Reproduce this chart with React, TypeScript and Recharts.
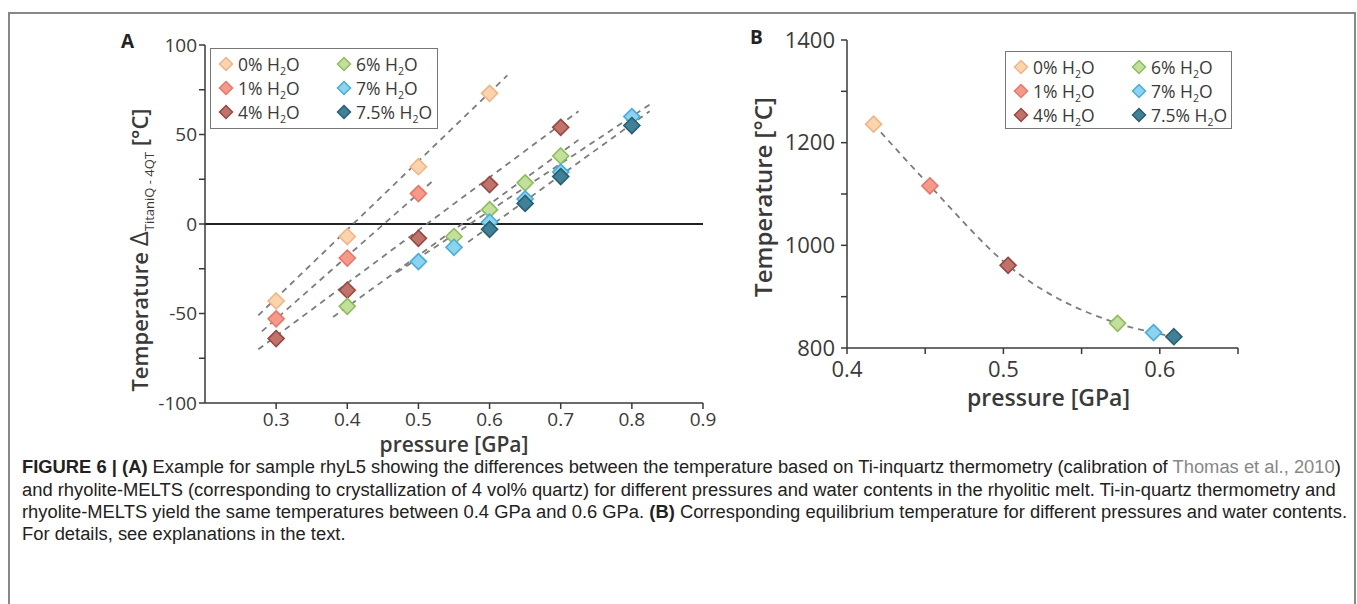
import { ComposedChart, Scatter, Line, XAxis, YAxis, ReferenceLine } from "recharts";

// water contents and their marker colours
const series = ["0%", "1%", "4%", "6%", "7%", "7.5%"];
const fills = ["#fbd3ad", "#f59a8b", "#c27369", "#c3df9c", "#8dd2ef", "#3f8196"];
const strokes = ["#f1b585", "#ea7667", "#984843", "#8dbd5c", "#45afdc", "#2a5e70"];

// panel A: temperature difference vs pressure
const pressureA = [
  [0.3, 0.4, 0.5, 0.6],
  [0.3, 0.4, 0.5],
  [0.3, 0.4, 0.5, 0.6, 0.7],
  [0.4, 0.55, 0.6, 0.65, 0.7],
  [0.5, 0.55, 0.6, 0.65, 0.7, 0.8],
  [0.6, 0.65, 0.7, 0.8],
];
const deltaA = [
  [-43, -7, 32, 73],
  [-53, -19, 17],
  [-64, -37, -8, 22, 54],
  [-46, -7, 8, 23, 38],
  [-21, -13, 1, 14, 29, 60],
  [-3, 11.5, 26.5, 55],
];
// dashed fit lines, start and end
const trendP = [
  [0.275, 0.625],
  [0.28, 0.52],
  [0.275, 0.725],
  [0.38, 0.725],
  [0.47, 0.83],
  [0.57, 0.825],
];
const trendT = [
  [-51, 83],
  [-60, 24],
  [-70, 63],
  [-52, 47],
  [-27, 68],
  [-10, 63],
];
const ticksAX = [0.3, 0.4, 0.5, 0.6, 0.7, 0.8, 0.9];
const ticksAY = [-100, -75, -50, -25, 0, 25, 50, 75, 100];

// panel B: equilibrium temperature
const pressureB = [0.417, 0.453, 0.503, 0.573, 0.596, 0.609];
const tempB = [1236, 1116, 961, 848, 830, 822];
const ticksBX = [0.4, 0.45, 0.5, 0.55, 0.6, 0.65];
const ticksBY = [800, 900, 1000, 1100, 1200, 1300, 1400];

const FONT = "'Open Sans', 'Noto Sans', sans-serif";
const AXIS = "#3a3a3a";

const diamond = (fill: string, stroke: string, r = 8) => (props: any) => {
  const { cx, cy } = props;
  if (cx == null || cy == null) return <g />;
  return (
    <polygon
      points={`${cx},${cy - r} ${cx + r},${cy} ${cx},${cy + r} ${cx - r},${cy}`}
      fill={fill}
      stroke={stroke}
      strokeWidth={1.6}
    />
  );
};

function H2O({ label }: { label: string }) {
  return (
    <span>
      {label} H<sub style={{ fontSize: "0.6em", verticalAlign: "-0.35em", lineHeight: 0 }}>2</sub>O
    </span>
  );
}

function LegendBox({ left, top, width, height, fontSize }: any) {
  return (
    <div
      style={{
        position: "absolute",
        left,
        top,
        width,
        height,
        boxSizing: "border-box",
        border: "1.5px solid #777",
        background: "#fff",
        fontFamily: FONT,
        fontSize,
        color: "#3a3a3a",
        display: "grid",
        gridTemplateColumns: "118px 1fr",
        gridAutoFlow: "column",
        gridTemplateRows: "repeat(3, 24px)",
        padding: "3px 0 0 7px",
        lineHeight: "24px",
      }}
    >
      {series.map((s, i) => (
        <div key={s} style={{ display: "flex", alignItems: "center", whiteSpace: "nowrap" }}>
          <svg width={16} height={16} style={{ marginRight: 4 }}>
            <polygon points="8,1.5 14.5,8 8,14.5 1.5,8" fill={fills[i]} stroke={strokes[i]} strokeWidth={1.5} />
          </svg>
          <H2O label={s} />
        </div>
      ))}
    </div>
  );
}

const tickA = { fontSize: 19, fill: AXIS, fontFamily: FONT };
const tickB = { fontSize: 22, fill: AXIS, fontFamily: FONT };

function PanelA() {
  return (
    <ComposedChart width={620} height={460} margin={{ top: 25, right: 17, bottom: 27, left: 0 }}>
      <XAxis
        type="number"
        dataKey="p"
        domain={[0.2, 0.9]}
        ticks={ticksAX}
        tickFormatter={(v: number) => v.toFixed(1)}
        height={50}
        tick={tickA}
        tickSize={6}
        tickMargin={4}
        axisLine={{ stroke: AXIS, strokeWidth: 1.5 }}
        tickLine={{ stroke: AXIS, strokeWidth: 1.5 }}
        label={{
          content: (p: any) => (
            <text
              x={p.viewBox.x + p.viewBox.width / 2}
              y={p.viewBox.y + 49}
              textAnchor="middle"
              fontFamily={FONT}
              fontSize={21}
              fontWeight={600}
              fill={AXIS}
            >
              pressure [GPa]
            </text>
          ),
        }}
      />
      <YAxis
        type="number"
        dataKey="t"
        domain={[-100, 100]}
        ticks={ticksAY}
        tickFormatter={(v: number) => (v % 50 === 0 ? String(v) : "")}
        width={105}
        tick={tickA}
        tickSize={6}
        axisLine={{ stroke: AXIS, strokeWidth: 1.5 }}
        tickLine={{ stroke: AXIS, strokeWidth: 1.5 }}
        label={{
          content: (p: any) => {
            const x = p.viewBox.x + 48;
            const y = p.viewBox.y + p.viewBox.height / 2 + 26;
            return (
              <text
                transform={`translate(${x},${y}) rotate(-90)`}
                textAnchor="middle"
                fontFamily={FONT}
                fontSize={22}
                fontWeight={600}
                fill={AXIS}
              >
                <tspan>Temperature </tspan>
                <tspan fontSize={26} fontWeight={500}>Δ</tspan>
                <tspan fontSize={13} fontWeight={500} dy={6}>TitaniQ - 4QT</tspan>
                <tspan dy={-6}> [°C]</tspan>
              </text>
            );
          },
        }}
      />
      <ReferenceLine y={0} stroke="#222" strokeWidth={2} />
      {series.map((s, i) => (
        <Line
          key={"t" + s}
          data={trendP[i].map((p, j) => ({ p, t: trendT[i][j] }))}
          dataKey="t"
          type="linear"
          stroke="#7d7d7d"
          strokeWidth={1.8}
          strokeDasharray="6 5"
          dot={false}
          activeDot={false}
          isAnimationActive={false}
        />
      ))}
      {series.map((s, i) => (
        <Scatter
          key={s}
          name={s}
          data={pressureA[i].map((p, j) => ({ p, t: deltaA[i][j] }))}
          fill={fills[i]}
          shape={diamond(fills[i], strokes[i])}
          isAnimationActive={false}
        />
      ))}
    </ComposedChart>
  );
}

function PanelB() {
  const curve = pressureB.map((p, i) => ({ p, t: tempB[i] }));
  return (
    <ComposedChart width={520} height={420} margin={{ top: 25, right: 22, bottom: 37, left: 0 }}>
      <XAxis
        type="number"
        dataKey="p"
        domain={[0.4, 0.65]}
        ticks={ticksBX}
        tickFormatter={(v: number) => (Math.round(v * 100) % 10 === 0 ? v.toFixed(1) : "")}
        height={50}
        tick={tickB}
        tickSize={6}
        tickMargin={7}
        axisLine={{ stroke: AXIS, strokeWidth: 1.5 }}
        tickLine={{ stroke: AXIS, strokeWidth: 1.5 }}
        label={{
          content: (p: any) => (
            <text
              x={p.viewBox.x + p.viewBox.width / 2 + 6}
              y={p.viewBox.y + 58}
              textAnchor="middle"
              fontFamily={FONT}
              fontSize={23}
              fontWeight={600}
              fill={AXIS}
            >
              pressure [GPa]
            </text>
          ),
        }}
      />
      <YAxis
        type="number"
        dataKey="t"
        domain={[800, 1400]}
        ticks={ticksBY}
        tickFormatter={(v: number) => (v % 200 === 0 ? String(v) : "")}
        width={107}
        tick={tickB}
        tickSize={6}
        tickMargin={6}
        axisLine={{ stroke: AXIS, strokeWidth: 1.5 }}
        tickLine={{ stroke: AXIS, strokeWidth: 1.5 }}
        label={{
          content: (p: any) => {
            const x = p.viewBox.x + 32;
            const y = p.viewBox.y + p.viewBox.height / 2 + 3;
            return (
              <text
                transform={`translate(${x},${y}) rotate(-90)`}
                textAnchor="middle"
                fontFamily={FONT}
                fontSize={24}
                fontWeight={600}
                fill={AXIS}
              >
                Temperature [°C]
              </text>
            );
          },
        }}
      />
      <Line
        data={curve}
        dataKey="t"
        type="monotone"
        stroke="#7d7d7d"
        strokeWidth={1.8}
        strokeDasharray="6 5"
        dot={false}
        activeDot={false}
        isAnimationActive={false}
      />
      {series.map((s, i) => (
        <Scatter
          key={s}
          name={s}
          data={[{ p: pressureB[i], t: tempB[i] }]}
          fill={fills[i]}
          shape={diamond(fills[i], strokes[i])}
          isAnimationActive={false}
        />
      ))}
    </ComposedChart>
  );
}

const capStyle: any = {
  position: "absolute",
  left: 22,
  fontFamily: "'Liberation Sans', Arial, sans-serif",
  fontSize: 18,
  color: "#222",
  whiteSpace: "nowrap",
  transformOrigin: "left center",
  transform: "scaleX(1.02)",
  lineHeight: "20px",
};

export default function App() {
  return (
    <div style={{ position: "absolute", left: 0, top: 0, width: 1357, height: 604, background: "#fff", overflow: "hidden" }}>
      <div
        style={{
          position: "absolute",
          left: 8,
          top: 12,
          width: 1348,
          height: 600,
          boxSizing: "border-box",
          borderTop: "2px solid #888",
          borderLeft: "2px solid #888",
          borderRight: "2px solid #888",
        }}
      />
      <div style={{ position: "absolute", left: 100, top: 20 }}>
        <PanelA />
      </div>
      <div style={{ position: "absolute", left: 740, top: 15 }}>
        <PanelB />
      </div>
      <LegendBox left={210} top={48} width={228} height={81} fontSize={17.5} />
      <LegendBox left={1005} top={51} width={227} height={78} fontSize={17.5} />
      <div style={{ position: "absolute", left: 121, top: 28, fontFamily: FONT, fontWeight: 700, fontSize: 19, color: "#222" }}>A</div>
      <div style={{ position: "absolute", left: 750, top: 24, fontFamily: FONT, fontWeight: 700, fontSize: 19, color: "#222" }}>B</div>

      <div style={{ ...capStyle, top: 457 }}>
        <b>FIGURE 6 | (A)</b> Example for sample rhyL5 showing the differences between the temperature based on Ti-inquartz thermometry (calibration of{" "}
        <span style={{ color: "#888" }}>Thomas et al., 2010</span>)
      </div>
      <div style={{ ...capStyle, top: 480 }}>
        and rhyolite-MELTS (corresponding to crystallization of 4 vol% quartz) for different pressures and water contents in the rhyolitic melt. Ti-in-quartz thermometry and
      </div>
      <div style={{ ...capStyle, top: 502 }}>
        rhyolite-MELTS yield the same temperatures between 0.4 GPa and 0.6 GPa. <b>(B)</b> Corresponding equilibrium temperature for different pressures and water contents.
      </div>
      <div style={{ ...capStyle, top: 524 }}>For details, see explanations in the text.</div>
    </div>
  );
}
